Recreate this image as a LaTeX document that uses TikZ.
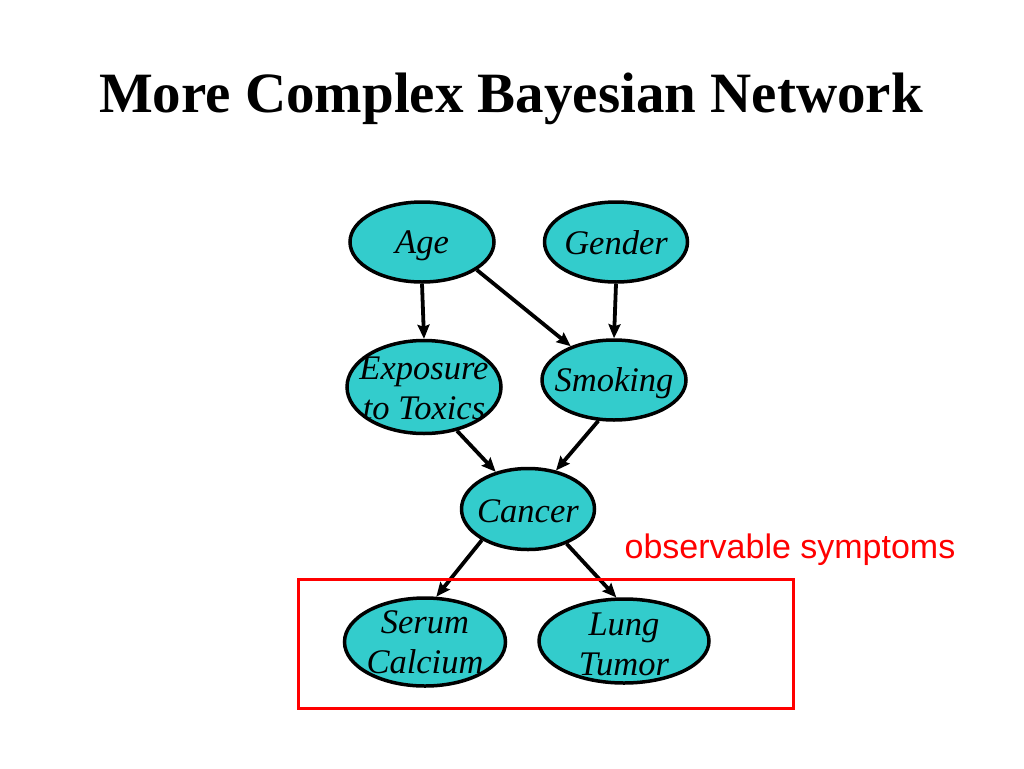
\documentclass[tikz,border=0pt]{standalone}
\usepackage{fontspec}
\setmainfont{Liberation Serif}
\newfontfamily\arialfont{Liberation Sans}
\usetikzlibrary{shapes.geometric,arrows.meta}
\definecolor{bnfill}{RGB}{51,204,204}
\definecolor{obsred}{RGB}{255,0,0}
\tikzset{
  bn/.style={ellipse,draw=black,line width=3.5pt,fill=bnfill,inner sep=0pt},
  lbl/.style={font=\itshape\fontsize{34.5}{40}\selectfont,align=center,inner sep=0pt},
  edge/.style={line width=3.8pt,-{Stealth[length=14pt,width=12pt,inset=2pt]}}
}
\begin{document}
\begin{tikzpicture}[x=1pt,y=-1pt]
\useasboundingbox (0,0) rectangle (1024,768);
\fill[white] (0,0) rectangle (1024,768);
\node[font=\bfseries\fontsize{57}{66}\selectfont,anchor=base,inner sep=0pt] (title) at (511,112) {More Complex Bayesian Network};
\node[bn,minimum width=144pt,minimum height=80pt] (Age) at (422,242) {};
\node[bn,minimum width=143pt,minimum height=80pt] (Gender) at (616,242) {};
\node[bn,minimum width=154pt,minimum height=93pt] (Expo) at (424,387) {};
\node[bn,minimum width=144pt,minimum height=80pt] (Smoking) at (614,380) {};
\node[bn,minimum width=133pt,minimum height=81pt] (Cancer) at (528,509) {};
\node[bn,minimum width=161pt,minimum height=88pt] (Serum) at (425,642) {};
\node[bn,minimum width=170pt,minimum height=84pt] (Lung) at (624,641) {};
\node[lbl] (tAge) at ([yshift=-4pt]Age.center) {Age};
\node[lbl] (tGender) at ([yshift=-1pt]Gender.center) {Gender};
\node[lbl] (tExpo) at ([yshift=-1pt]Expo.center) {Exposure\\to Toxics};
\node[lbl] (tSmoking) at ([yshift=-3pt]Smoking.center) {Smoking};
\node[lbl] (tCancer) at ([yshift=-2pt]Cancer.center) {Cancer};
\node[lbl] (tSerum) at (Serum) {Serum\\Calcium};
\node[lbl] (tLung) at ([yshift=-3pt]Lung.center) {Lung\\Tumor};
\draw[edge] (Age.south) -- (Expo.north);
\draw[edge] (Age.333) -- (Smoking.142);
\draw[edge] (Gender.south) -- (Smoking.north);
\draw[edge] (Expo.307) -- (Cancer.131);
\draw[edge] (Smoking.249) -- (Cancer.54);
\draw[edge] (Cancer.214) -- (Serum.76);
\draw[edge] (Cancer.318) -- (Lung.100);
\node[draw=obsred,line width=3pt,minimum width=495pt,minimum height=129pt,inner sep=0pt] (box) at (545.5,643.5) {};
\node[font=\arialfont\fontsize{34}{40}\selectfont,text=obsred,anchor=base,inner sep=0pt] (obs) at (790,558) {observable symptoms};
\end{tikzpicture}
\end{document}
